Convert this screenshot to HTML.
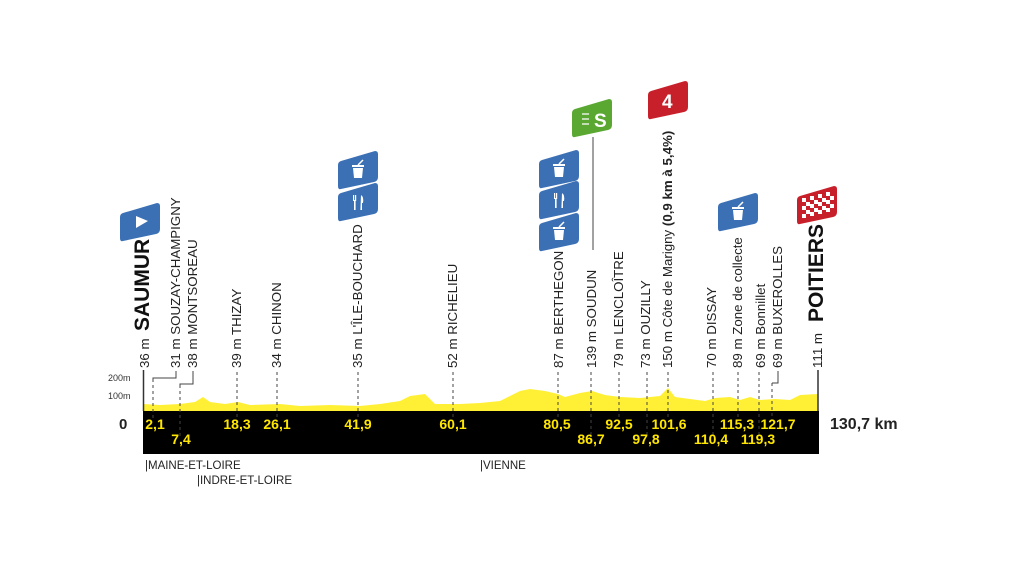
<!DOCTYPE html>
<html><head><meta charset="utf-8"><style>
html,body{margin:0;padding:0;background:#fff;}
svg{display:block;}
text{font-family:"Liberation Sans",sans-serif;}
.l{font-size:13.3px;fill:#222;}
.y{font-size:14px;font-weight:bold;fill:#ffe600;text-anchor:middle;}
</style></head><body>
<svg width="1024" height="583" viewBox="0 0 1024 583" xmlns="http://www.w3.org/2000/svg">
<defs>
<path id="flag" d="M3,10 L37,0 Q40,0 40,3 L40,26 Q40,30 36,31 L3,38 Q0,39 0,35 L0,14 Q0,11 3,10 Z"/>
<g id="bin" fill="#fff"><path d="M15,17 h10 l-1,10 h-8 z"/><rect x="14" y="14" width="12" height="2"/><path d="M20,14 l5,-5" stroke="#fff" stroke-width="1.5"/></g>
<g id="fork" fill="#fff"><rect x="15" y="12" width="1.2" height="6"/><rect x="17" y="12" width="1.2" height="6"/><rect x="16" y="17" width="1.6" height="10"/><path d="M23,12 q3,2 2,8 h-1 v7 h-1.6z"/></g>
</defs>
<path d="M143,411 L143,404 L160,405 L180,404 L195,402 L203,397 L210,402 L225,404 L238,402 L250,405 L280,404 L300,406 L330,405 L360,406 L380,404 L400,401 L410,396 L425,394 L430,399 L435,404 L460,404 L480,403 L500,401 L510,396 L520,391 L530,389 L545,391 L558,394 L565,397 L580,393 L592,391 L605,395 L620,397 L640,398 L660,396 L668,388 L675,397 L690,399 L705,401 L715,398 L730,397 L740,400 L750,397 L760,400 L775,399 L790,400 L800,395 L818,394 L818,411 Z" fill="#fff035"/>
<rect x="143" y="411" width="676" height="43" fill="#000"/>
<line x1="143.5" y1="370" x2="143.5" y2="411" stroke="#333" stroke-width="1.5"/>
<line x1="818" y1="370" x2="818" y2="411" stroke="#333" stroke-width="1.5"/>
<text x="108" y="381" font-size="9" fill="#333">200m</text>
<text x="108" y="399" font-size="9" fill="#333">100m</text>
<text x="119" y="429" font-size="15" font-weight="bold" fill="#222">0</text>
<text x="830" y="429" font-size="16" font-weight="bold" fill="#222">130,7 km</text>
<g stroke="#444" stroke-width="1" stroke-dasharray="3,3">
<line x1="153" y1="379" x2="153" y2="420"/><line x1="180" y1="385" x2="180" y2="436"/>
<line x1="237" y1="372" x2="237" y2="420"/><line x1="277" y1="372" x2="277" y2="420"/>
<line x1="358" y1="372" x2="358" y2="420"/><line x1="453" y1="372" x2="453" y2="420"/>
<line x1="558" y1="372" x2="558" y2="420"/><line x1="591" y1="372" x2="591" y2="436"/>
<line x1="619" y1="372" x2="619" y2="420"/><line x1="647" y1="372" x2="647" y2="436"/>
<line x1="668" y1="372" x2="668" y2="420"/><line x1="713" y1="372" x2="713" y2="436"/>
<line x1="738" y1="372" x2="738" y2="420"/><line x1="759" y1="372" x2="759" y2="436"/>
<line x1="772" y1="383" x2="772" y2="420"/>
</g>
<g stroke="#444" stroke-width="1" fill="none">
<path d="M153,379 V378 H176 V371"/><path d="M180,385 V384 H193 V371"/><path d="M772,383 H778 V371"/>
<line x1="593" y1="137" x2="593" y2="250"/>
</g>
<g class="l">
<text transform="translate(149,368) rotate(-90)">36 m</text>
<text transform="translate(180,368) rotate(-90)">31 m SOUZAY-CHAMPIGNY</text>
<text transform="translate(197,368) rotate(-90)">38 m MONTSOREAU</text>
<text transform="translate(241,368) rotate(-90)">39 m THIZAY</text>
<text transform="translate(281,368) rotate(-90)">34 m CHINON</text>
<text transform="translate(362,368) rotate(-90)">35 m L'ÎLE-BOUCHARD</text>
<text transform="translate(457,368) rotate(-90)">52 m RICHELIEU</text>
<text transform="translate(563,368) rotate(-90)">87 m BERTHEGON</text>
<text transform="translate(596,368) rotate(-90)">139 m SOUDUN</text>
<text transform="translate(623,368) rotate(-90)">79 m LENCLOÎTRE</text>
<text transform="translate(650,368) rotate(-90)">73 m OUZILLY</text>
<text transform="translate(672,368) rotate(-90)">150 m Côte de Marigny <tspan font-weight="bold">(0,9 km à 5,4%)</tspan></text>
<text transform="translate(716,368) rotate(-90)">70 m DISSAY</text>
<text transform="translate(742,368) rotate(-90)">89 m Zone de collecte</text>
<text transform="translate(765,368) rotate(-90)">69 m Bonnillet</text>
<text transform="translate(782,368) rotate(-90)">69 m BUXEROLLES</text>
<text transform="translate(822,368) rotate(-90)">111 m</text>
</g>
<text transform="translate(149,331) rotate(-90)" font-size="21" font-weight="bold" fill="#111">SAUMUR</text>
<text transform="translate(823,322) rotate(-90)" font-size="21" font-weight="bold" fill="#111">POITIERS</text>
<g class="y">
<text x="155" y="429">2,1</text><text x="181" y="444">7,4</text>
<text x="237" y="429">18,3</text><text x="277" y="429">26,1</text>
<text x="358" y="429">41,9</text><text x="453" y="429">60,1</text>
<text x="557" y="429">80,5</text><text x="591" y="444">86,7</text>
<text x="619" y="429">92,5</text><text x="646" y="444">97,8</text>
<text x="669" y="429">101,6</text><text x="711" y="444">110,4</text>
<text x="737" y="429">115,3</text><text x="758" y="444">119,3</text>
<text x="778" y="429">121,7</text>
</g>
<text x="145" y="469" font-size="11.5" fill="#222">|MAINE-ET-LOIRE</text>
<text x="197" y="484" font-size="11.5" fill="#222">|INDRE-ET-LOIRE</text>
<text x="480" y="469" font-size="11.5" fill="#222">|VIENNE</text>
<g transform="translate(120,203)"><use href="#flag" fill="#3b70b5"/><path d="M16,13 L28,18 L16,25 Z" fill="#fff"/></g>
<g transform="translate(338,151)"><use href="#flag" fill="#3b70b5"/><use href="#bin"/></g>
<g transform="translate(338,183)"><use href="#flag" fill="#3b70b5"/><use href="#fork"/></g>
<g transform="translate(539,150)"><use href="#flag" fill="#3b70b5"/><use href="#bin"/></g>
<g transform="translate(539,181)"><use href="#flag" fill="#3b70b5"/><use href="#fork"/></g>
<g transform="translate(539,213)"><use href="#flag" fill="#3b70b5"/><use href="#bin"/></g>
<g transform="translate(572,99)"><use href="#flag" fill="#5aa832"/><text x="22" y="28" font-size="19" font-weight="bold" fill="#fff">S</text><path d="M10,15h7M10,20h7M10,25h7" stroke="#fff" stroke-width="1.2"/></g>
<g transform="translate(648,81)"><use href="#flag" fill="#c8202a"/><text x="14" y="27" font-size="19" font-weight="bold" fill="#fff">4</text></g>
<g transform="translate(718,193)"><use href="#flag" fill="#3b70b5"/><use href="#bin"/></g>
<g transform="translate(797,186)"><use href="#flag" fill="#c8202a"/>
<g fill="#fff">
<rect x="5" y="12" width="4" height="4"/><rect x="13" y="10" width="4" height="4"/><rect x="21" y="8" width="4" height="4"/><rect x="29" y="6" width="4" height="4"/>
<rect x="9" y="16" width="4" height="4"/><rect x="17" y="14" width="4" height="4"/><rect x="25" y="12" width="4" height="4"/><rect x="33" y="10" width="4" height="4"/>
<rect x="5" y="20" width="4" height="4"/><rect x="13" y="18" width="4" height="4"/><rect x="21" y="16" width="4" height="4"/><rect x="29" y="14" width="4" height="4"/>
<rect x="9" y="24" width="4" height="4"/><rect x="17" y="22" width="4" height="4"/><rect x="25" y="20" width="4" height="4"/><rect x="33" y="18" width="4" height="4"/>
<rect x="5" y="28" width="4" height="4"/><rect x="13" y="26" width="4" height="4"/><rect x="21" y="24" width="4" height="4"/><rect x="29" y="22" width="4" height="4"/>
</g></g>
</svg>
</body></html>
